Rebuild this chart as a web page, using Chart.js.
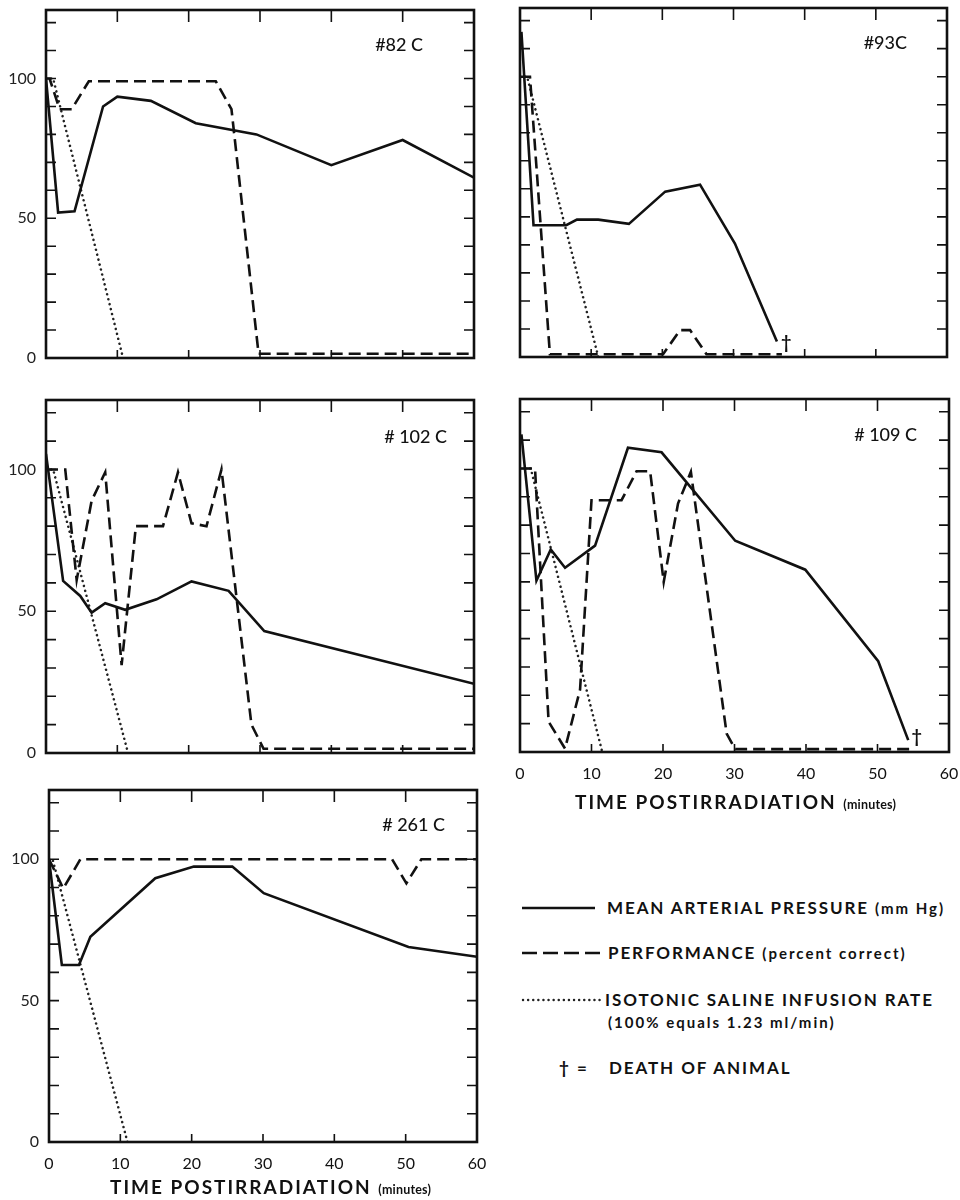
<!DOCTYPE html>
<html>
<head>
<meta charset="utf-8">
<script src="https://cdn.jsdelivr.net/npm/chart.js@4.4.1/dist/chart.umd.min.js"></script>
<style>
  body { margin: 0; background: #fff; }
  #page { position: relative; width: 960px; height: 1200px; font-family: Lato, "Open Sans", sans-serif; color: #111; }
  .panel { position: absolute; }
  .txt { position: absolute; white-space: nowrap; font-weight: 700; font-size: 17px; letter-spacing: 1.9px; line-height: 20px; }
  .txt small { font-size: 15px; letter-spacing: 2px; }
  .axis-title { font-size: 19px; letter-spacing: 2px; }
  .axis-title small { font-size: 12.5px; letter-spacing: 0.2px; }
  .sample { position: absolute; }
</style>
</head>
<body>
<div id="page">
  <div class="panel" id="p82"><canvas></canvas></div>
  <div class="panel" id="p93"><canvas></canvas></div>
  <div class="panel" id="p102"><canvas></canvas></div>
  <div class="panel" id="p109"><canvas></canvas></div>
  <div class="panel" id="p261"><canvas></canvas></div>

  <div class="txt axis-title" style="left:575px; top:792px;">TIME POSTIRRADIATION <small>(minutes)</small></div>
  <div class="txt axis-title" style="left:110px; top:1177px;">TIME POSTIRRADIATION <small>(minutes)</small></div>

  <!-- legend -->
  <svg class="sample" style="left:520px; top:898px;" width="90" height="20"><line x1="2" y1="10" x2="75" y2="10" stroke="#111" stroke-width="2.5"/></svg>
  <div class="txt" style="left:607px; top:898px;">MEAN ARTERIAL PRESSURE <small>(mm Hg)</small></div>
  <svg class="sample" style="left:520px; top:943px;" width="90" height="20"><line x1="2" y1="10" x2="82" y2="10" stroke="#111" stroke-width="2.5" stroke-dasharray="15 6"/></svg>
  <div class="txt" style="left:608px; top:943px;">PERFORMANCE <small>(percent correct)</small></div>
  <svg class="sample" style="left:520px; top:990px;" width="90" height="20"><line x1="3" y1="10" x2="83" y2="10" stroke="#222" stroke-width="2.4" stroke-dasharray="0.1 5" stroke-linecap="round"/></svg>
  <div class="txt" style="left:605px; top:990px;">ISOTONIC SALINE INFUSION RATE</div>
  <div class="txt" style="left:608px; top:1012px;"><small>(100% equals 1.23 ml/min)</small></div>
  <div class="txt" style="left:559px; top:1058px;">†</div>
  <div class="txt" style="left:577px; top:1058px;">=</div>
  <div class="txt" style="left:609px; top:1058px;">DEATH OF ANIMAL</div>
</div>

<script>
// axis ticks
const xTicks = [0, 10, 20, 30, 40, 50, 60];
const yTicks = [0, 10, 20, 30, 40, 50, 60, 70, 80, 90, 100, 110, 120];
const yLabels = [0, 50, 100];

// [minutes, value]
const pressure82 = [[0, 100], [1.7, 52], [4, 52.5], [8, 90], [10, 93.5], [14.7, 92], [21, 84], [29.5, 80], [40, 69], [50, 78], [60, 64.5]];
const performance82 = [[0, 100], [0.5, 100], [1.9, 89], [3.6, 89], [6, 99], [23.8, 99], [26, 89], [29.8, 1.5], [60, 1.5]];
const saline82 = [[0, 100], [1, 100], [10.8, 0]];

const pressure93 = [[0.2, 116], [1.9, 47], [6.5, 47], [8, 49], [11, 49], [15.3, 47.5], [20.4, 59], [25.3, 61.5], [30.2, 40.5], [36.1, 5.5]];
const performance93 = [[0, 100], [1.4, 100], [4.2, 1], [20.1, 1], [22.5, 9.6], [23.9, 9.6], [26.2, 1], [36.8, 1]];
const saline93 = [[0, 100], [1, 100], [11, 0]];
const death93 = [37.4, 5];

const pressure102 = [[0, 105.5], [2.4, 60.7], [4.8, 55.4], [6.4, 49.5], [8.3, 52.8], [11.1, 50.5], [15.5, 54.2], [20.4, 60.5], [25.6, 57.2], [30.6, 43], [60, 24.4]];
const performance102 = [[0, 100], [2.7, 100], [4.3, 61], [6.4, 89], [8.3, 99], [10.6, 31], [12.6, 80], [16.4, 80], [18.5, 99], [20.4, 81], [22.5, 80], [24.6, 100], [28.8, 10], [30.5, 1.5], [60, 1.5]];
const saline102 = [[0, 100], [1, 100], [11.5, 0]];

const pressure109 = [[0.2, 112], [2.3, 60.4], [4.3, 71.4], [6.3, 65], [10.5, 72.8], [15.1, 107.3], [19.8, 105.7], [30.1, 74.5], [39.9, 64.3], [50.1, 32], [54.3, 4.2]];
const performance109 = [[0, 100], [2.1, 100], [4, 10.7], [6.3, 1.2], [8.4, 22], [10, 88.8], [14.2, 88.8], [16.3, 99], [18.2, 99], [20.1, 60], [22.1, 87.6], [23.9, 98.8], [28.9, 6.5], [30.1, 1], [55.2, 1]];
const saline109 = [[0, 100], [1.5, 100], [11.5, 0]];
const death109 = [55.5, 5.3];

const pressure261 = [[0, 100], [1.8, 62.6], [4.2, 62.6], [5.8, 72.6], [14.9, 93.3], [20.3, 97.4], [25.7, 97.4], [30.1, 88], [50.4, 69], [60, 65.5]];
const performance261 = [[0, 100], [2, 89.7], [4.4, 100], [48.1, 100], [50.1, 91.5], [52.2, 100], [60, 100]];
const saline261 = [[0, 100], [0.5, 100], [11, 0]];

const Y_MAX = 124.5;
// keep padding larger than the label overflow chart.js reserves, so the plot box lands exactly on the frame
const PAD = { top: 24, right: 24, bottom: 24 };
const Y_AXIS_W = 46;
const X_AXIS_H = 34;

// frame: plot box on the page, titleDx/titleDy: title position from top-right corner
const panels = [
  { id: 'p82', title: '#82 C', frame: { l: 46, t: 10, r: 474, b: 358 }, titleDx: 51, titleDy: 35,
    pressure: pressure82, performance: performance82, saline: saline82, showX: false },
  { id: 'p93', title: '#93C', frame: { l: 520, t: 8, r: 947, b: 357 }, titleDx: 40, titleDy: 35,
    pressure: pressure93, performance: performance93, saline: saline93, death: death93, showX: false, hideY: true },
  { id: 'p102', title: '# 102 C', frame: { l: 46, t: 400, r: 474, b: 753 }, titleDx: 27, titleDy: 37,
    pressure: pressure102, performance: performance102, saline: saline102, showX: false },
  { id: 'p109', title: '# 109 C', frame: { l: 520, t: 399, r: 949, b: 752 }, titleDx: 32, titleDy: 36,
    pressure: pressure109, performance: performance109, saline: saline109, death: death109, showX: true, hideY: true },
  { id: 'p261', title: '# 261 C', frame: { l: 49, t: 790, r: 477, b: 1142 }, titleDx: 32, titleDy: 35,
    pressure: pressure261, performance: performance261, saline: saline261, showX: true }
];

function toPoints(arr) {
  return arr.map(p => ({ x: p[0], y: p[1] }));
}

const framePlugin = {
  id: 'frame',
  afterDatasetsDraw(chart, args, opts) {
    const { ctx, chartArea: a, scales: { x, y } } = chart;
    ctx.save();
    ctx.strokeStyle = '#111';
    ctx.lineWidth = 1.6;
    ctx.beginPath();
    yTicks.forEach(v => {
      const py = y.getPixelForValue(v);
      ctx.moveTo(a.left, py); ctx.lineTo(a.left + 10, py);
      ctx.moveTo(a.right, py); ctx.lineTo(a.right - 10, py);
    });
    xTicks.forEach(v => {
      const px = x.getPixelForValue(v);
      ctx.moveTo(px, a.top); ctx.lineTo(px, a.top + 12);
      ctx.moveTo(px, a.bottom); ctx.lineTo(px, a.bottom - 8);
    });
    ctx.stroke();
    ctx.lineWidth = 2.6;
    ctx.strokeRect(a.left, a.top, a.right - a.left, a.bottom - a.top);

    // panel title
    ctx.fillStyle = '#111';
    ctx.font = '500 18px Lato, "Open Sans", sans-serif';
    ctx.textAlign = 'right';
    ctx.textBaseline = 'middle';
    ctx.fillText(opts.title, a.right - opts.dx, a.top + opts.dy);

    // death marker
    if (opts.death) {
      ctx.font = '700 18px Lato, "Open Sans", sans-serif';
      ctx.textAlign = 'center';
      ctx.fillText('†', x.getPixelForValue(opts.death[0]), y.getPixelForValue(opts.death[1]));
    }
    ctx.restore();
  }
};

panels.forEach(p => {
  const f = p.frame;
  const box = document.getElementById(p.id);
  const w = f.r - f.l + Y_AXIS_W + PAD.right;
  const h = f.b - f.t + PAD.top + (p.showX ? X_AXIS_H : PAD.bottom);
  box.style.left = (f.l - Y_AXIS_W) + 'px';
  box.style.top = (f.t - PAD.top) + 'px';
  box.style.width = w + 'px';
  box.style.height = h + 'px';

  new Chart(box.querySelector('canvas'), {
    type: 'line',
    data: {
      datasets: [
        { label: 'Mean arterial pressure', data: toPoints(p.pressure), borderColor: '#111', borderWidth: 2.6 },
        { label: 'Performance', data: toPoints(p.performance), borderColor: '#111', borderWidth: 2.6, borderDash: [12, 6] },
        { label: 'Saline infusion rate', data: toPoints(p.saline), borderColor: '#222', borderWidth: 2.5,
          borderDash: [0.1, 5], borderCapStyle: 'round' }
      ]
    },
    options: {
      responsive: true,
      maintainAspectRatio: false,
      animation: false,
      events: [],
      elements: { point: { radius: 0 }, line: { tension: 0 } },
      layout: {
        autoPadding: false,
        padding: { top: PAD.top, right: PAD.right, bottom: p.showX ? 0 : PAD.bottom, left: 0 }
      },
      plugins: {
        legend: { display: false },
        tooltip: { enabled: false },
        frame: { title: p.title, dx: p.titleDx, dy: p.titleDy, death: p.death }
      },
      scales: {
        x: {
          type: 'linear', min: 0, max: 60,
          display: p.showX,
          grid: { display: false, drawTicks: false },
          border: { display: false },
          ticks: { stepSize: 10, padding: 12, color: '#111', font: { family: 'Lato', size: 16 } },
          afterFit: s => { s.height = p.showX ? X_AXIS_H : 0; }
        },
        y: {
          min: 0, max: Y_MAX,
          grid: { display: false, drawTicks: false },
          border: { display: false },
          ticks: {
            stepSize: 10, padding: 10, color: '#222', font: { family: 'Lato', size: 16 },
            callback: v => (!p.hideY && yLabels.includes(v)) ? String(v) : ''
          },
          afterFit: s => { s.width = Y_AXIS_W; }
        }
      }
    },
    plugins: [framePlugin]
  });
});
</script>
</body>
</html>
